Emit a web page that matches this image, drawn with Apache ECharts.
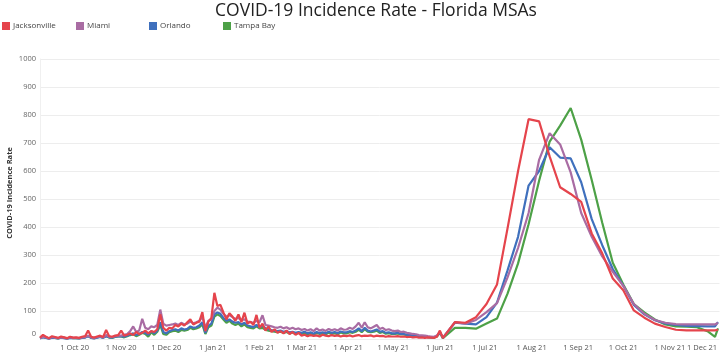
<!DOCTYPE html>
<html>
<head>
<meta charset="utf-8">
<script src="https://cdn.jsdelivr.net/npm/echarts@6/dist/echarts.min.js"></script>
<style>
html,body{margin:0;padding:0;background:#fff;}
#chart{width:720px;height:355px;}
</style>
</head>
<body>
<div id="chart"></div>
<script>
// ---- Data ----
const seriesNames = ['Jacksonville', 'Miami', 'Orlando', 'Tampa Bay'];

// Daily-period readings, one value every 2 days starting 2020-09-08 (last = 2021-06-03)
const dailyStart = '2020-09-08';
const dailyStepDays = 2;

const jacksonvilleDaily = [
  5, 15, 8, 3, 10, 7, 4, 9, 6, 3, 8, 5,
  6, 4, 8, 10, 30, 8, 5, 9, 12, 7, 32, 10, 8, 12, 14,
  30, 12, 15, 20, 14, 25, 18, 22, 30, 20, 28, 25, 35, 88, 40,
  30, 40, 38, 50, 45, 55, 48, 60, 70, 52, 58, 62, 96, 28, 62,
  75, 165, 118, 122, 95, 70, 92, 80, 65, 88, 60, 94, 55, 62, 50, 86,
  40, 55, 30, 45, 25, 35, 22, 28, 20, 30, 18, 25, 15, 22,
  12, 15, 10, 14, 11, 13, 9, 15, 12, 10, 14, 11, 13, 9, 12,
  10, 13, 9, 12, 14, 10, 12, 11, 13, 9, 12, 10, 11, 8, 10, 9,
  9, 10, 8, 9, 7, 8, 6, 7, 5, 6, 4, 6, 5, 4, 8, 30,
  3
];
const miamiDaily = [
  3, 8, 6, 2, 7, 5, 3, 6, 5, 2, 6, 4,
  4, 3, 6, 7, 12, 6, 4, 7, 9, 6, 14, 8, 7, 10, 12,
  12, 15, 18, 28, 45, 25, 30, 72, 40, 35, 45, 42, 50, 105, 55,
  48, 50, 52, 55, 50, 58, 52, 55, 62, 56, 60, 65, 78, 40, 65,
  70, 100, 112, 105, 90, 80, 85, 78, 72, 75, 68, 70, 62, 60, 58, 65,
  60, 85, 50, 48, 45, 42, 40, 44, 38, 42, 36, 40, 35, 38,
  32, 36, 30, 35, 28, 38, 30, 34, 29, 36, 31, 35, 30, 38, 33,
  34, 40, 36, 45, 58, 40, 60, 42, 38, 44, 50, 36, 40, 32, 35, 30,
  28, 30, 25, 26, 22, 20, 18, 17, 14, 13, 12, 10, 9, 8, 12, 26,
  5
];
const orlandoDaily = [
  2, 6, 4, 1, 5, 4, 2, 5, 3, 1, 4, 3,
  3, 2, 4, 5, 10, 4, 2, 5, 7, 4, 10, 6, 5, 8, 9,
  10, 8, 12, 16, 20, 14, 18, 25, 22, 15, 28, 20, 30, 60, 25,
  20, 28, 32, 35, 30, 38, 34, 36, 45, 40, 42, 48, 60, 22, 48,
  55, 88, 95, 90, 75, 65, 70, 62, 58, 60, 52, 58, 48, 45, 42, 50,
  42, 48, 38, 35, 32, 30, 28, 30, 26, 28, 24, 26, 22, 25,
  22, 26, 20, 24, 19, 25, 21, 24, 20, 26, 22, 25, 21, 27, 24,
  24, 28, 25, 30, 38, 28, 40, 30, 27, 30, 34, 26, 28, 22, 24, 20,
  20, 22, 18, 18, 15, 14, 12, 12, 10, 9, 8, 7, 6, 6, 10, 24,
  4
];
const tampaBayDaily = [
  3, 7, 5, 2, 6, 4, 2, 5, 4, 2, 5, 3,
  3, 2, 5, 6, 11, 4, 3, 6, 8, 5, 11, 5, 4, 7, 9,
  9, 6, 10, 14, 17, 10, 15, 22, 18, 8, 24, 15, 26, 50, 18,
  15, 24, 28, 30, 25, 32, 30, 32, 40, 35, 38, 42, 52, 18, 42,
  48, 80, 88, 82, 70, 58, 65, 55, 50, 55, 45, 52, 42, 40, 38, 45,
  38, 40, 33, 30, 28, 26, 24, 26, 22, 25, 20, 23, 18, 22,
  18, 22, 16, 21, 15, 22, 18, 20, 17, 22, 18, 21, 17, 23, 20,
  20, 24, 22, 26, 33, 24, 35, 26, 24, 26, 30, 22, 25, 19, 21, 18,
  18, 20, 16, 16, 14, 12, 11, 11, 9, 8, 8, 7, 6, 5, 9, 22,
  3
];

// Weekly-period readings
const weeklyDates = [
  '2021-06-11','2021-06-18','2021-06-25','2021-07-02','2021-07-09','2021-07-16','2021-07-23','2021-07-30',
  '2021-08-06','2021-08-13','2021-08-20','2021-08-27','2021-09-03','2021-09-10','2021-09-17','2021-09-24',
  '2021-10-01','2021-10-08','2021-10-15','2021-10-22','2021-10-29','2021-11-05','2021-11-12','2021-11-19',
  '2021-11-26','2021-12-01','2021-12-03'
];
const jacksonvilleWeekly = [60, 58, 78, 125, 195, 395, 600, 785, 777, 652, 542, 518, 490, 377, 306, 216, 174, 102, 76, 55, 43, 33, 31, 31, 31, 31, 33];
const miamiWeekly        = [60, 55, 68, 96, 128, 220, 325, 450, 640, 735, 695, 595, 450, 365, 295, 240, 190, 125, 90, 68, 58, 53, 52, 52, 52, 52, 58];
const orlandoWeekly      = [58, 55, 52, 78, 130, 245, 365, 548, 600, 685, 648, 645, 560, 428, 335, 250, 190, 122, 88, 67, 56, 50, 47, 46, 45, 45, 60];
const tampaBayWeekly     = [40, 40, 37, 55, 73, 162, 270, 410, 565, 705, 762, 825, 712, 568, 415, 272, 195, 125, 95, 70, 52, 45, 44, 42, 28, 8, 38];

// Axis ticks
const yTicks = [0, 100, 200, 300, 400, 500, 600, 700, 800, 900, 1000];
const xTickDates = ['2020-10-01','2020-11-01','2020-12-01','2021-01-01','2021-02-01','2021-03-01','2021-04-01',
  '2021-05-01','2021-06-01','2021-07-01','2021-08-01','2021-09-01','2021-10-01','2021-11-01','2021-12-01'];
const xTickLabels = ['1 Oct 20','1 Nov 20','1 Dec 20','1 Jan 21','1 Feb 21','1 Mar 21','1 Apr 21',
  '1 May 21','1 Jun 21','1 Jul 21','1 Aug 21','1 Sep 21','1 Oct 21','1 Nov 21','1 Dec 21'];
const xMin = '2020-09-08';
const xMax = '2021-12-04';

const colors = {
  'Jacksonville': '#e5444c',
  'Miami': '#a96ca3',
  'Orlando': '#3f70bd',
  'Tampa Bay': '#4da147'
};

// ---- Build ----
const DAY = 86400000;
const t0 = Date.parse(dailyStart);
function build(daily, weekly) {
  const out = daily.map((v, i) => [t0 + i * dailyStepDays * DAY, v]);
  weekly.forEach((v, i) => out.push([Date.parse(weeklyDates[i]), v]));
  return out;
}
const dataMap = {
  'Jacksonville': build(jacksonvilleDaily, jacksonvilleWeekly),
  'Miami': build(miamiDaily, miamiWeekly),
  'Orlando': build(orlandoDaily, orlandoWeekly),
  'Tampa Bay': build(tampaBayDaily, tampaBayWeekly)
};
const tickTs = xTickDates.map(d => Date.parse(d));
const labelByTs = {};
tickTs.forEach((t, i) => labelByTs[t] = xTickLabels[i]);

const drawOrder = ['Tampa Bay', 'Orlando', 'Miami', 'Jacksonville'];
const legendLeft = [2, 76, 149, 223];

const chart = echarts.init(document.getElementById('chart'), null, {renderer: 'canvas'});
chart.setOption({
  animation: false,
  textStyle: {fontFamily: 'Open Sans'},
  title: {
    text: 'COVID-19 Incidence Rate - Florida MSAs',
    left: 371, textAlign: 'center', top: -3,
    textStyle: {fontFamily: 'Open Sans', fontSize: 17.5, fontWeight: 'normal', color: '#222'}
  },
  legend: seriesNames.map((n, i) => ({
    data: [{name: n, icon: 'rect'}],
    left: legendLeft[i], top: 22, padding: 0,
    itemWidth: 8, itemHeight: 8, itemGap: 0,
    selectedMode: false,
    textStyle: {fontFamily: 'Open Sans', fontSize: 8, color: '#444', padding: [0, 0, 0, -2]}
  })),
  graphic: [{
    type: 'text', x: 10, y: 193, rotation: Math.PI / 2,
    style: {text: 'COVID-19 Incidence Rate', fontFamily: 'Open Sans', fontSize: 7.5, fontWeight: 'bold',
      fill: '#333', textAlign: 'center', textVerticalAlign: 'middle'}
  }],
  grid: {left: 40, right: 0, top: 59, bottom: 16, containLabel: false},
  xAxis: {
    type: 'value',
    min: Date.parse(xMin), max: Date.parse(xMax),
    axisLine: {show: false},
    axisTick: {show: false},
    splitLine: {show: false},
    axisLabel: {
      customValues: tickTs,
      fontFamily: 'Open Sans', fontSize: 7.5, color: '#555', margin: 5,
      hideOverlap: false, showMinLabel: true, showMaxLabel: true,
      formatter: v => {
        const s = labelByTs[v] || '';
        return s === '1 Dec 21' ? '{d|' + s + '}' : s;
      },
      rich: {d: {fontFamily: 'Open Sans', fontSize: 7.5, color: '#555', padding: [0, 26, 0, 0]}}
    }
  },
  yAxis: {
    type: 'value', min: 0, max: 1000, interval: 100,
    axisLine: {show: true, lineStyle: {color: '#f0f0f0'}},
    axisTick: {show: false},
    splitLine: {lineStyle: {color: '#ededed', width: 1}},
    axisLabel: {
      fontFamily: 'Open Sans', fontSize: 7.5, color: '#666', margin: 4,
      formatter: v => v === 0 ? '{z|0}' : String(v),
      rich: {z: {fontFamily: 'Open Sans', fontSize: 7.5, color: '#666', padding: [0, 0, 11, 0]}}
    }
  },
  series: drawOrder.map(n => ({
    name: n, type: 'line', data: dataMap[n],
    showSymbol: false, symbol: 'none',
    lineStyle: {width: 2.2, color: colors[n]},
    itemStyle: {color: colors[n]},
    z: 2
  }))
});
</script>
</body>
</html>
